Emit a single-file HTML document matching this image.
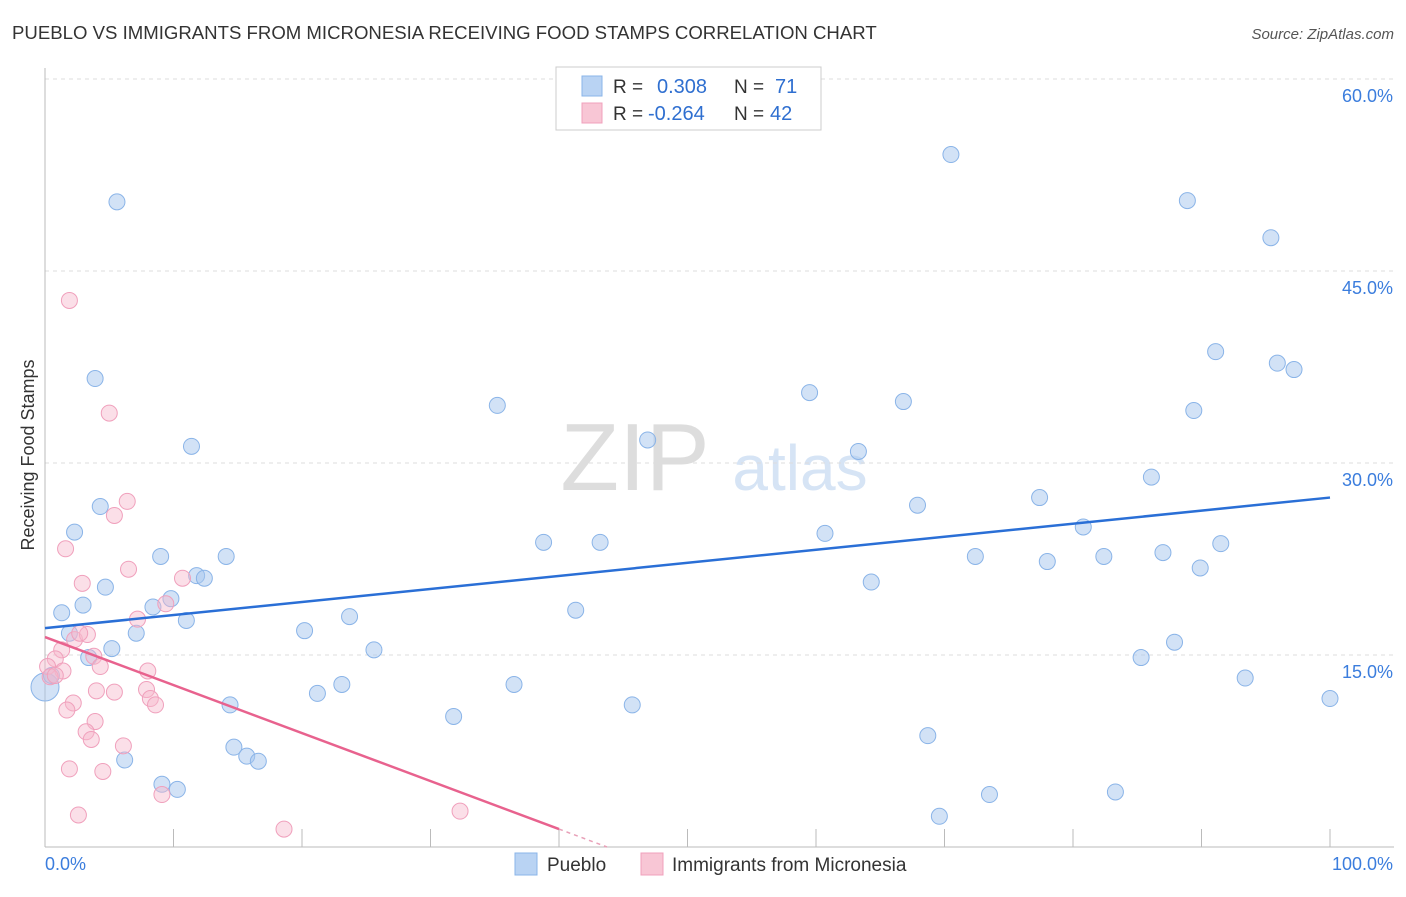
<!DOCTYPE html>
<html><head><meta charset="utf-8">
<style>
body{margin:0;background:#fff;font-family:"Liberation Sans",sans-serif;}
svg text{font-family:"Liberation Sans",sans-serif;}
</style></head>
<body>
<svg id="c" width="1406" height="892" xmlns="http://www.w3.org/2000/svg">
<text x="12" y="39" font-size="18.6" fill="#333">PUEBLO VS IMMIGRANTS FROM MICRONESIA RECEIVING FOOD STAMPS CORRELATION CHART</text>
<text x="1394" y="39" font-size="15" fill="#555" text-anchor="end" font-style="italic">Source: ZipAtlas.com</text>
<text x="635" y="490" font-size="96" fill="#ddd" font-family="Liberation Serif" text-anchor="middle">ZIP</text>
<text x="800" y="490" font-size="64" fill="#d6e4f5" text-anchor="middle">atlas</text>
<text transform="translate(34,455) rotate(-90)" font-size="18" fill="#333" text-anchor="middle">Receiving Food Stamps</text>
<g id="grid"></g><g id="marks"></g><g id="trends"></g>
<g>
<rect x="556" y="67" width="265" height="63" fill="#fff" stroke="#ccc"/>
<rect x="582" y="76" width="20" height="20" fill="#b9d3f3" stroke="#8ab4e8"/>
<rect x="582" y="103" width="20" height="20" fill="#f8c6d5" stroke="#f0a0bc"/>
<text x="613" y="93" font-size="19" fill="#333">R = </text><text x="657" y="93" font-size="20" fill="#2f6fd0">0.308</text>
<text x="734" y="93" font-size="19" fill="#333">N = </text><text x="775" y="93" font-size="20" fill="#2f6fd0">71</text>
<text x="613" y="120" font-size="19" fill="#333">R = </text><text x="648" y="120" font-size="20" fill="#2f6fd0">-0.264</text>
<text x="734" y="120" font-size="19" fill="#333">N = </text><text x="770" y="120" font-size="20" fill="#2f6fd0">42</text>
</g>
<g>
<rect x="515" y="853" width="22" height="22" fill="#b9d3f3" stroke="#8ab4e8"/>
<text x="547" y="871" font-size="19" fill="#333">Pueblo</text>
<rect x="641" y="853" width="22" height="22" fill="#f8c6d5" stroke="#f0a0bc"/>
<text x="672" y="871" font-size="19" fill="#333">Immigrants from Micronesia</text>
</g>
</svg>
<script>
const yTicks=[15,30,45,60];
const yTickLabels=["15.0%","30.0%","45.0%","60.0%"];
const xTicks=[0,10,20,30,40,50,60,70,80,90,100];
const puebloX=[5.6,70.5,88.9,95.4,3.9,91.1,95.9,97.2,35.2,59.5,66.8,89.4,11.4,46.9,63.3,86.1,77.4,67.9,4.3,2.3,60.7,80.8,38.8,43.2,91.5,9.0,14.1,72.4,82.4,87.0,78.0,89.9,11.8,12.4,64.3,4.7,9.8,2.96,8.4,1.3,41.3,23.7,11.0,1.9,7.1,20.2,87.9,5.2,25.6,3.4,85.3,93.4,23.1,36.5,21.2,100,14.4,45.7,31.8,68.7,14.7,15.7,16.6,6.2,9.1,10.3,73.5,83.3,69.6,0,0.5];
const puebloY=[50.4,54.1,50.5,47.6,36.6,38.7,37.8,37.3,34.5,35.5,34.8,34.1,31.3,31.8,30.9,28.9,27.3,26.7,26.6,24.6,24.5,25.0,23.8,23.8,23.7,22.7,22.7,22.7,22.7,23.0,22.3,21.8,21.2,21.0,20.7,20.3,19.4,18.9,18.75,18.3,18.5,18.0,17.7,16.7,16.7,16.9,16.0,15.5,15.4,14.8,14.8,13.2,12.7,12.7,12.0,11.6,11.1,11.1,10.2,8.7,7.8,7.1,6.7,6.8,4.9,4.5,4.1,4.3,2.4,12.5,13.4];
const micX=[1.9,5.0,6.4,5.4,1.6,6.5,2.9,10.7,9.4,7.2,2.3,3.3,2.7,1.3,3.8,0.8,1.4,4.3,8.0,0.2,0.4,0.8,4.0,5.4,7.9,8.2,8.6,2.2,1.7,3.9,3.2,3.6,6.1,1.9,4.5,9.1,2.6,18.6,32.3];
const micY=[42.7,33.9,27.0,25.9,23.3,21.7,20.6,21.0,19.0,17.8,16.2,16.6,16.7,15.4,14.9,14.7,13.75,14.1,13.75,14.1,13.3,13.4,12.2,12.1,12.3,11.6,11.1,11.25,10.7,9.8,9.0,8.4,7.9,6.1,5.9,4.1,2.5,1.4,2.8];
const puebloTrend=[17.1,27.3];
const micTrend=[16.4,1.4];
const sx=v=>45+v*12.85, sy=v=>847-v*12.8;
const NS="http://www.w3.org/2000/svg";
function mk(t,a,p){const e=document.createElementNS(NS,t);for(const k in a)e.setAttribute(k,a[k]);p.appendChild(e);return e;}
const g=document.getElementById('grid');
yTicks.forEach((v,i)=>{
 const l=mk('line',{x1:45,x2:1394,y1:sy(v),y2:sy(v),stroke:'#ddd','stroke-dasharray':'4,4'},g);
 
 
 const t=mk('text',{x:1393,y:sy(v)+23,'font-size':18,fill:'#3b7ddd','text-anchor':'end'},g);t.textContent=yTickLabels[i];
 
 
});
const topLine=mk('line',{x1:45,x2:1394,y1:79,y2:79,stroke:'#ddd','stroke-dasharray':'4,4'},g);


const ya=mk('line',{x1:45,x2:45,y1:68,y2:847,stroke:'#bbb'},g);


const xa=mk('line',{x1:45,x2:1394,y1:847,y2:847,stroke:'#bbb'},g);


xTicks.forEach(v=>{const l=mk('line',{x1:sx(v),x2:sx(v),y1:829,y2:847,stroke:'#bbb'},g);
 
 });
let tx=mk('text',{x:45,y:870,'font-size':18,fill:'#3b7ddd'},g);tx.textContent='0.0%';


tx=mk('text',{x:1393,y:870,'font-size':18,fill:'#3b7ddd','text-anchor':'end'},g);tx.textContent='100.0%';


const m=document.getElementById('marks');
puebloX.forEach((x,i)=>{const r=(x===0)?14:8;const c=mk('circle',{cx:sx(x),cy:sy(puebloY[i]),r:r,fill:'rgba(165,198,238,0.5)',stroke:'#8ab4e8','stroke-width':1},m);
 
 });
micX.forEach((x,i)=>{const c=mk('circle',{cx:sx(x),cy:sy(micY[i]),r:8,fill:'rgba(246,184,204,0.45)',stroke:'#f0a0bc','stroke-width':1},m);
 
 });
const tr=document.getElementById('trends');
let ln=mk('line',{x1:sx(0),y1:sy(puebloTrend[0]),x2:sx(100),y2:sy(puebloTrend[1]),stroke:'#2a6fd6','stroke-width':2.5},tr);


ln=mk('line',{x1:sx(0),y1:sy(micTrend[0]),x2:sx(40),y2:sy(micTrend[1]),stroke:'#e8628e','stroke-width':2.5},tr);


const slope=(micTrend[1]-micTrend[0])/40;
const xZero=40+(0-micTrend[1])/slope;
ln=mk('line',{x1:sx(40),y1:sy(micTrend[1]),x2:sx(xZero),y2:sy(0),stroke:'#e8a0b8','stroke-width':1.5,'stroke-dasharray':'4,4'},tr);


</script>
</body></html>
